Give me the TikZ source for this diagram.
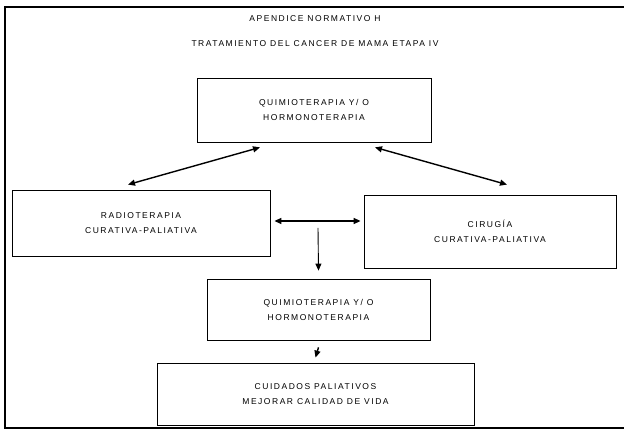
\documentclass[tikz,border=0pt]{standalone}
\usepackage{fontspec}
\setmainfont{Liberation Sans}[LetterSpace=18]
\usetikzlibrary{arrows.meta}

\tikzset{
	box/.style={draw, line width=0.8pt, align=center, font=\fontsize{8.5}{15}\selectfont},
	title/.style={font=\fontsize{8.5}{15}\selectfont}
}

\begin{document}
\begin{tikzpicture}[x=1pt, y=1pt, >={Triangle[length=7pt,width=6pt]}, line width=1.4pt]
	\useasboundingbox (0,0) rectangle (624,430);
	% frame
	\draw[line width=1.2pt] (624,423) -- (5,423) -- (5,2) -- (624,2);
	\node[title] (T1) at (315,411) {APENDICE NORMATIVO H};
	\node[title] (T2) at (315,386) {TRATAMIENTO DEL CANCER DE MAMA ETAPA IV};
	\node[box, minimum width=234, minimum height=64] (Q1) at (314,320) {QUIMIOTERAPIA Y/ O\\HORMONOTERAPIA};
	\node[box, minimum width=258, minimum height=66] (R) at (141,207) {RADIOTERAPIA\\CURATIVA-PALIATIVA};
	\node[box, minimum width=252, minimum height=73] (C) at (490,198.5) {CIRUGÍA\\CURATIVA-PALIATIVA};
	\node[box, minimum width=223, minimum height=61] (Q2) at (318.5,120.5) {QUIMIOTERAPIA Y/ O\\HORMONOTERAPIA};
	\node[box, minimum width=317, minimum height=62] (P) at (315.5,36) {CUIDADOS PALIATIVOS\\MEJORAR CALIDAD DE VIDA};
	\coordinate (S) at (318,202);
	\draw[<->] ([shift={(-13,5)}]R.north) to ([shift={(-54,-5)}]Q1.south);
	\draw[<->] ([shift={(61,-5)}]Q1.south) to ([shift={(17,10)}]C.north);
	\draw[<->] ([shift={(4,2)}]R.east) to ([shift={(-3,10.5)}]C.west);
	\draw[->, line width=0.9pt] (S) to ([yshift=8]Q2.north);
	\draw[->] ([yshift=-7]Q2.south) to ([yshift=5]P.north);
\end{tikzpicture}
\end{document}
